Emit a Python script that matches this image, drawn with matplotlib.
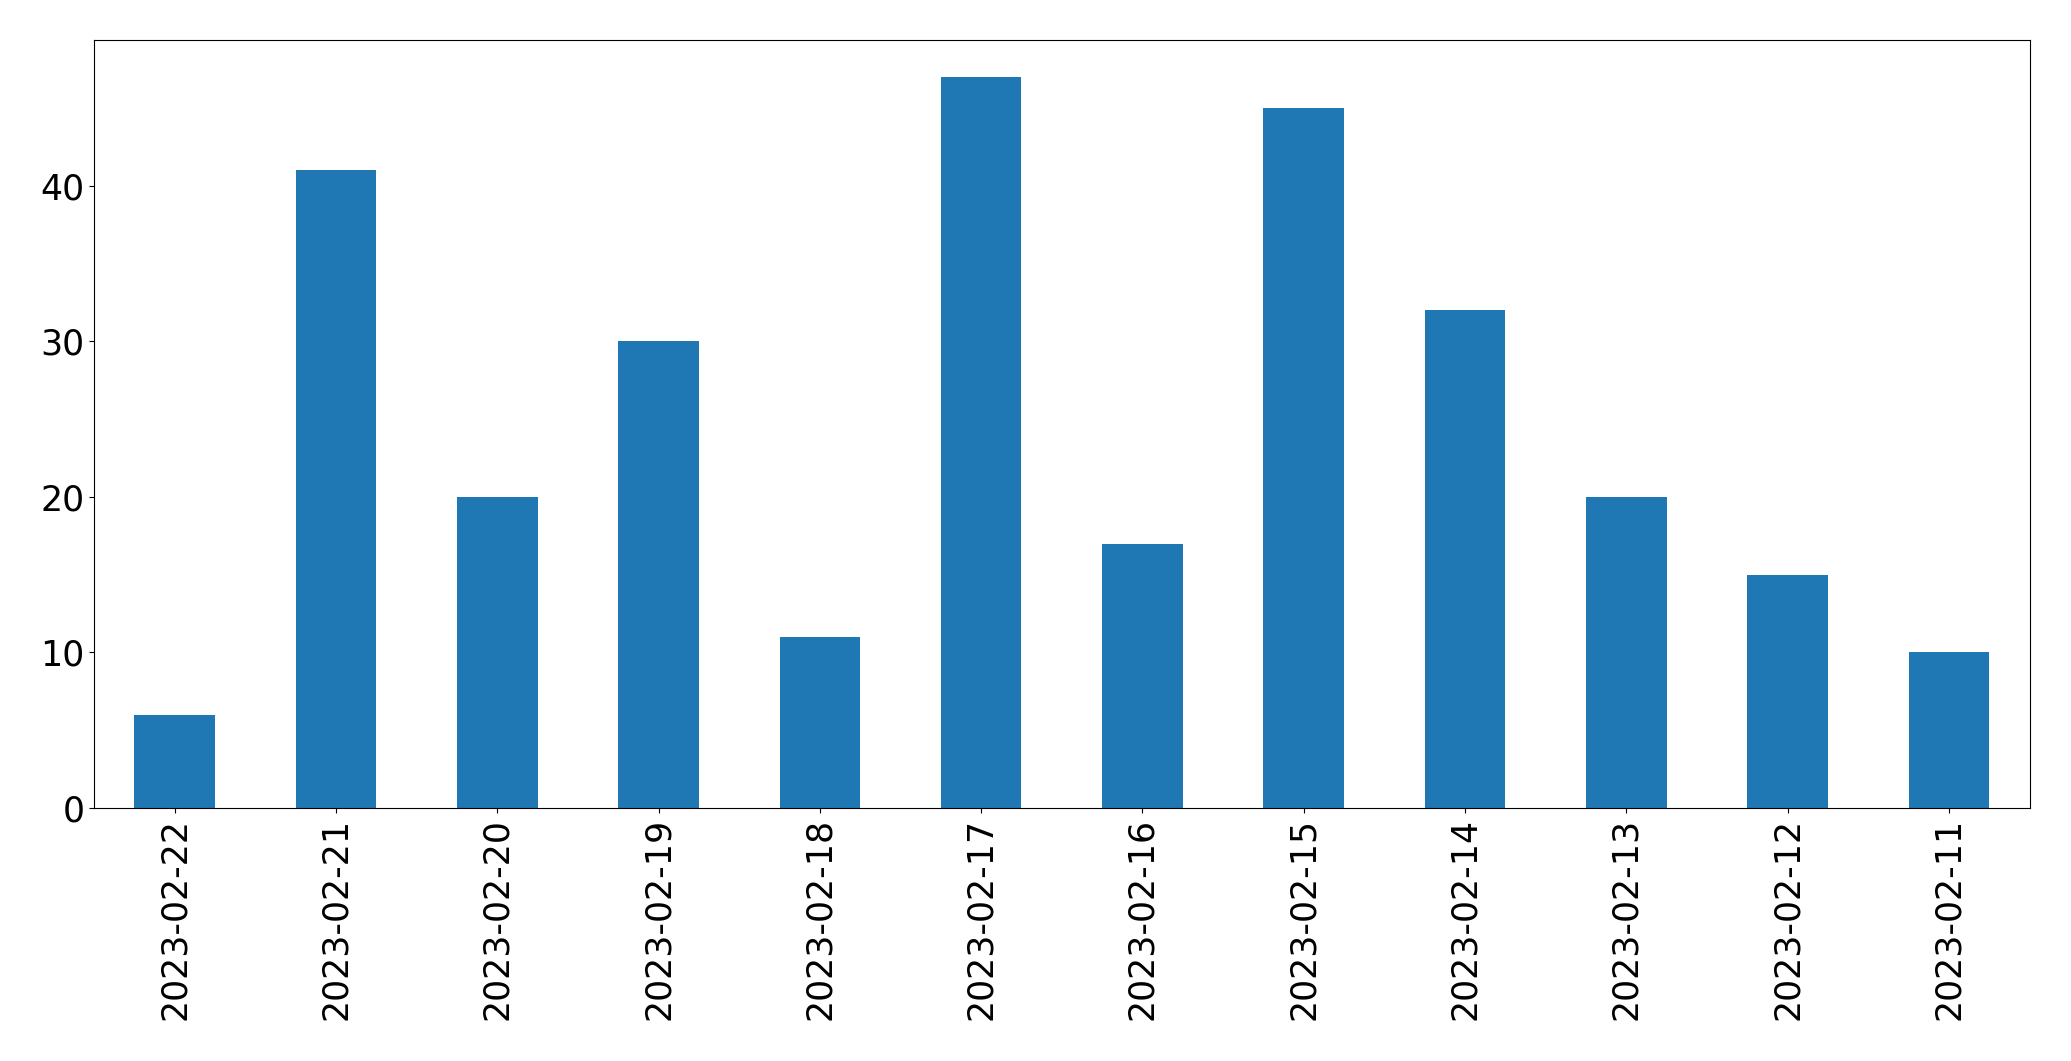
import matplotlib
matplotlib.use("Agg")
import matplotlib.pyplot as plt
import numpy as np

# Données
dates = ["2023-02-22", "2023-02-21", "2023-02-20", "2023-02-19", "2023-02-18",
         "2023-02-17", "2023-02-16", "2023-02-15", "2023-02-14", "2023-02-13",
         "2023-02-12", "2023-02-11"]
counts = [6, 41, 20, 30, 11, 47, 17, 45, 32, 20, 15, 10]

fig = plt.figure(figsize=(20.71, 10.61), dpi=100)
ax = fig.add_axes([0.0454, 0.2385, 0.9346, 0.7235])

x = np.arange(len(dates))
ax.bar(x, counts, width=0.5, color="#1f77b4")
ax.set_xlim(-0.5, len(dates) - 0.5)
ax.set_ylim(0, max(counts) * 1.05)
ax.set_xticks(x)
ax.set_xticklabels(dates, rotation=90)
ax.set_yticks([0, 10, 20, 30, 40])
ax.tick_params(labelsize=25)

fig.savefig("out.png", dpi=100)
